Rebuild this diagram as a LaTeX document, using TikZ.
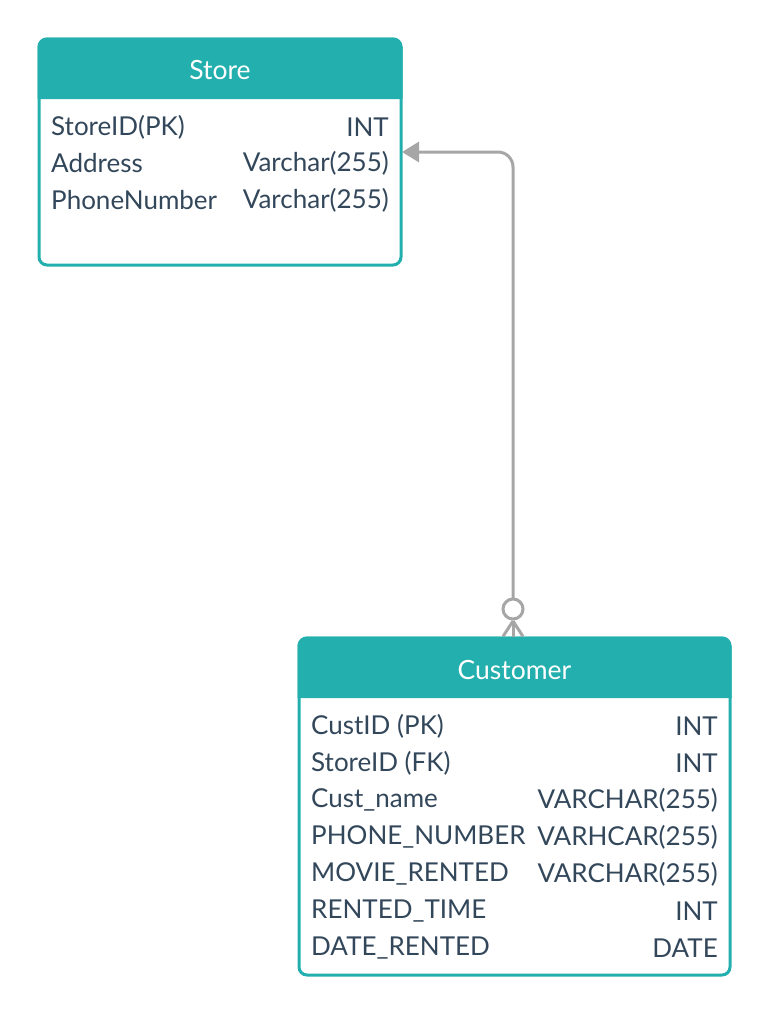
\documentclass[tikz,border=0pt]{standalone}
\usepackage{fontspec}
\setmainfont{Lato}
\usetikzlibrary{arrows.meta}
\definecolor{hdr}{HTML}{23AFAE}
\definecolor{txt}{HTML}{33475B}
\definecolor{conn}{HTML}{A6A6A6}
\tikzset{
  tbl/.style={draw=hdr, line width=3pt, rounded corners=8pt, fill=white, inner sep=0pt},
  ttl/.style={text=white, font=\fontsize{26.5}{30}\selectfont, inner sep=0pt},
  lft/.style={anchor=west, text=txt, font=\fontsize{26}{30}\selectfont, inner sep=0pt},
  rgt/.style={anchor=east, text=txt, font=\fontsize{26}{30}\selectfont, inner sep=0pt},
  link/.style={draw=conn, line width=3pt}
}
\begin{document}
\begin{tikzpicture}[x=1pt,y=-1pt]
\useasboundingbox (0,0) rectangle (769,1015);
% Store table
\node[tbl, minimum width=362pt, minimum height=226pt] (store) at (220,152) {};
\fill[hdr] (39,99) [rounded corners=8pt] -- (39,39) -- (401,39) [sharp corners] -- (401,99) -- cycle;
\draw[hdr, line width=3pt, rounded corners=8pt] (39,99) -- (39,39) -- (401,39) -- (401,99);
\node[ttl] (storet) at (220,70) {Store};
\node[lft] (s1l) at (51,127) {StoreID(PK)};
\node[rgt] (s1r) at (389,127) {INT};
\node[lft] (s2l) at (51,163.5) {Address};
\node[rgt] (s2r) at (389,163.5) {Varchar(255)};
\node[lft] (s3l) at (51,200) {PhoneNumber};
\node[rgt] (s3r) at (389,200) {Varchar(255)};
% Customer table
\node[tbl, minimum width=431pt, minimum height=337pt] (cust) at (514.5,806.5) {};
\fill[hdr] (299,698) [rounded corners=8pt] -- (299,638) -- (730,638) [sharp corners] -- (730,698) -- cycle;
\draw[hdr, line width=3pt, rounded corners=8pt] (299,698) -- (299,638) -- (730,638) -- (730,698);
\node[ttl] (custt) at (514.5,670) {Customer};
\node[lft] (c1l) at (311,726) {CustID (PK)};
\node[rgt] (c1r) at (718,726) {INT};
\node[lft] (c2l) at (311,763) {StoreID (FK)};
\node[rgt] (c2r) at (718,763) {INT};
\node[lft] (c3l) at (311,800) {Cust\_name};
\node[rgt] (c3r) at (718,800) {VARCHAR(255)};
\node[lft] (c4l) at (311,837) {PHONE\_NUMBER};
\node[rgt] (c4r) at (718,837) {VARHCAR(255)};
\node[lft] (c5l) at (311,874) {MOVIE\_RENTED};
\node[rgt] (c5r) at (718,874) {VARCHAR(255)};
\node[lft] (c6l) at (311,911) {RENTED\_TIME};
\node[rgt] (c6r) at (718,911) {INT};
\node[lft] (c7l) at (311,948) {DATE\_RENTED};
\node[rgt] (c7r) at (718,948) {DATE};
% Connector
\coordinate (ctop) at (513,636.5);
\coordinate (crow) at (513,621);
\coordinate (ring) at (513,609);
\coordinate (send) at (402,152);
\draw[link, rounded corners=15pt, -{Triangle[length=17pt,width=20pt]}] (ring) ++(0,-10) |- (send);
\draw[link] (ring) circle (10);
\draw[link] (crow) -- (ctop);
\draw[link] (crow) -- ++(-10,15.5);
\draw[link] (crow) -- ++(10,15.5);
\end{tikzpicture}
\end{document}
